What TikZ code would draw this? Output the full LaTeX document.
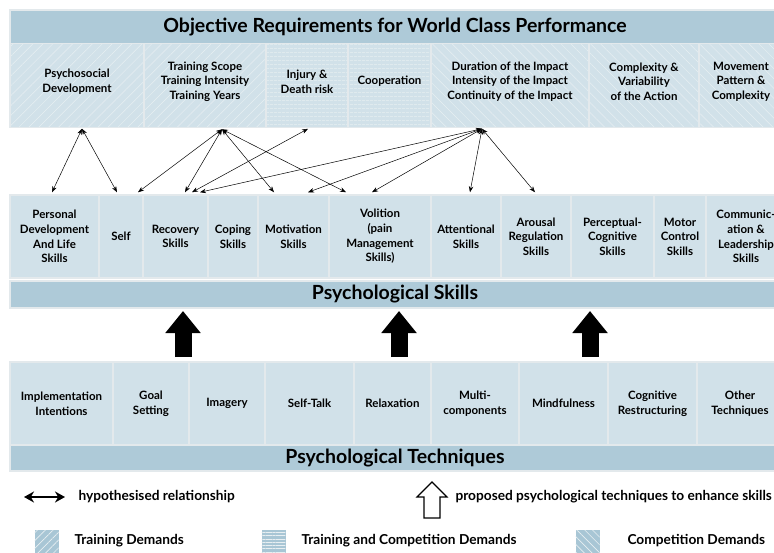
\documentclass[tikz,border=0pt]{standalone}
\usepackage{fontspec}
\setmainfont{Lato}
\usetikzlibrary{arrows.meta}
\usetikzlibrary{patterns.meta}
\definecolor{barblue}{HTML}{AECAD8}
\definecolor{cellblue}{HTML}{D1E1E9}
\definecolor{frame}{HTML}{E3E9EC}
\definecolor{hatch}{HTML}{E8EFF2}
\definecolor{swatchblue}{HTML}{A8C6D5}
\newcommand{\boxfont}{\bfseries\fontsize{11.5}{14.6}\selectfont}
\newcommand{\barfont}{\bfseries\fontsize{19.5}{22}\selectfont}
\newcommand{\keyfont}{\bfseries\fontsize{13.7}{16}\selectfont}
\tikzset{cell/.style = {draw=frame, line width=1.5pt, fill=cellblue, minimum height=83pt,
                        inner sep=0pt, align=center, font=\boxfont}}
\tikzset{bar/.style = {draw=frame, line width=1.5pt, fill=barblue, minimum width=770pt,
                       inner sep=0pt, font=\barfont}}
\tikzset{hatched/.style = {draw=frame, line width=1.5pt, preaction={fill=cellblue},
                           pattern color=hatch, minimum height=84pt, inner sep=0pt}}
\tikzset{trainD/.style = {hatched, pattern={Lines[angle=45,distance=7pt,line width=0.5pt]}}}
\tikzset{bothD/.style = {hatched, pattern={Lines[angle=0,distance=4pt,line width=0.5pt]}}}
\tikzset{compD/.style = {hatched, pattern={Lines[angle=-45,distance=7pt,line width=0.5pt]}}}
\tikzset{demtext/.style = {align=center, font=\boxfont, yshift=4pt}}
\tikzset{hyp/.style = {<->, >={Stealth[length=6pt,width=4.5pt]}, line width=0.5pt}}
\tikzset{boost/.style = {line width=17pt, -{Triangle[length=22pt,width=34pt]}}}
\tikzset{swatch/.style = {preaction={fill=swatchblue}, pattern color=hatch,
                          minimum width=24pt, minimum height=24pt, inner sep=0pt}}

\begin{document}
\begin{tikzpicture}[x=1pt,y=-1pt]
  \useasboundingbox (0,0) rectangle (774,552);
  \clip (0,0) rectangle (774,552);

  % demands
  \node[bar, minimum height=33.5pt] (req) at (395,26.75)
    {Objective Requirements for World Class Performance};
  \node[trainD, minimum width=134pt, label={[demtext]center:{Psychosocial\\Development}}] (psy) at (77,85.5) {};
  \node[trainD, minimum width=122pt, label={[demtext]center:{Training Scope\\Training Intensity\\Training Years}}] (trn) at (205,85.5) {};
  \node[bothD, minimum width=82pt, label={[demtext]center:{Injury \&\\Death risk}}] (inj) at (307,85.5) {};
  \node[bothD, minimum width=83pt, label={[demtext]center:{Cooperation}}] (coop) at (389.5,85.5) {};
  \node[compD, minimum width=158pt, label={[demtext]center:{Duration of the Impact\\Intensity of the Impact\\Continuity of the Impact}}] (dur) at (510,85.5) {};
  \node[compD, minimum width=110pt, label={[demtext]center:{Complexity \&\\Variability\\of the Action}}] (cpx) at (644,85.5) {};
  \node[compD, minimum width=84pt, label={[demtext]center:{Movement\\Pattern \&\\Complexity}}] (mov) at (741,85.5) {};

  % skills
  \node[cell, minimum width=89pt] (pdl) at (54.5,236.5) {Personal\\Development\\And Life\\Skills};
  \node[cell, minimum width=44pt] (self) at (121,236.5) {Self};
  \node[cell, minimum width=65pt] (rec) at (175.5,236.5) {Recovery\\Skills};
  \node[cell, minimum width=50pt] (cop) at (233,236.5) {Coping\\Skills};
  \node[cell, minimum width=71pt] (mot) at (293.5,236.5) {Motivation\\Skills};
  \node[cell, minimum width=102pt] (vol) at (380,236.5) {Volition\\(pain\\Management\\Skills)};
  \node[cell, minimum width=70pt] (att) at (466,236.5) {Attentional\\Skills};
  \node[cell, minimum width=70pt] (aro) at (536,236.5) {Arousal\\Regulation\\Skills};
  \node[cell, minimum width=83pt] (per) at (612.5,236.5) {Perceptual-\\Cognitive\\Skills};
  \node[cell, minimum width=52pt] (mcs) at (680,236.5) {Motor\\Control\\Skills};
  \node[cell, minimum width=80pt] (com) at (746,236.5) {Communic-\\ation \&\\Leadership\\Skills};
  \node[bar, minimum height=27pt] (sbar) at (395,294.5) {Psychological Skills};

  % techniques
  \node[cell, minimum width=103pt] (imp) at (61.5,403.5) {Implementation\\Intentions};
  \node[cell, minimum width=76pt] (goal) at (151,403.5) {Goal\\Setting};
  \node[cell, minimum width=76pt] (img) at (227,403.5) {Imagery};
  \node[cell, minimum width=89pt] (st) at (309.5,403.5) {Self-Talk};
  \node[cell, minimum width=77pt] (rlx) at (392.5,403.5) {Relaxation};
  \node[cell, minimum width=88pt] (mul) at (475,403.5) {Multi-\\components};
  \node[cell, minimum width=89pt] (mind) at (563.5,403.5) {Mindfulness};
  \node[cell, minimum width=89pt] (cog) at (652.5,403.5) {Cognitive\\Restructuring};
  \node[cell, minimum width=86pt] (oth) at (740,403.5) {Other\\Techniques};
  \node[bar, minimum height=26pt] (tbar) at (395,458) {Psychological Techniques};

  % hypothesised relationships
  \coordinate (psyA) at ([xshift=5pt,yshift=-1pt]psy.south);
  \coordinate (trnA) at ([xshift=17pt,yshift=-1pt]trn.south);
  \coordinate (injA) at ([xshift=1pt,yshift=-1pt]inj.south);
  \coordinate (durA) at ([xshift=-28pt,yshift=-1pt]dur.south);
  \draw[hyp] (psyA) -- ([xshift=-2.5pt,yshift=2pt]pdl.north);
  \draw[hyp] (psyA) -- ([xshift=-4pt,yshift=2pt]self.north);
  \draw[hyp] (trnA) -- ([xshift=17pt,yshift=2pt]self.north);
  \draw[hyp] (trnA) -- ([xshift=9.5pt,yshift=2pt]rec.north);
  \draw[hyp] (trnA) -- ([xshift=-19.5pt,yshift=2pt]mot.north);
  \draw[hyp] (trnA) -- ([xshift=-34pt,yshift=2pt]vol.north);
  \draw[hyp] (injA) -- ([xshift=16.5pt,yshift=2pt]rec.north);
  \draw[hyp] (durA) -- ([xshift=24.5pt,yshift=2pt]rec.north);
  \draw[hyp] (durA) -- ([xshift=14.5pt,yshift=2pt]mot.north);
  \draw[hyp] (durA) -- ([xshift=-8pt,yshift=2pt]vol.north);
  \draw[hyp] (durA) -- ([xshift=4pt,yshift=2pt]att.north);
  \draw[hyp] (durA) -- ([xshift=-1pt,yshift=2pt]aro.north);

  % techniques -> skills
  \coordinate (b1) at (183,357);   \coordinate (t1) at (183,311);
  \coordinate (b2) at (399,357);   \coordinate (t2) at (399,311);
  \coordinate (b3) at (590,357);   \coordinate (t3) at (590,311);
  \draw[boost] (b1) -- (t1);
  \draw[boost] (b2) -- (t2);
  \draw[boost] (b3) -- (t3);

  % legend
  \node[anchor=west, font=\keyfont] (hypTxt) at (75,497) {hypothesised relationship};
  \coordinate (hypL) at (24,497);
  \draw[line width=2.5pt, {Stealth[length=10pt,width=11pt]}-{Stealth[length=10pt,width=11pt]}]
    (hypL) -- ([xshift=-10pt]hypTxt.west);
  \draw[line width=1.2pt, fill=white] (432,482) -- (447,497) -- (440,497) -- (440,518)
    -- (424,518) -- (424,497) -- (417,497) -- cycle;
  \node[anchor=west, font=\keyfont] (propTxt) at (452,497) {proposed psychological techniques to enhance skills};

  \node[swatch, pattern={Lines[angle=45,distance=5.5pt,line width=0.6pt]}] (swT) at (46.5,542) {};
  \node[anchor=west, font=\keyfont] (swTTxt) at (71,541) {Training Demands};
  \node[swatch, pattern={Lines[angle=0,distance=3.3pt,line width=0.6pt]}] (swB) at (273.5,542) {};
  \node[anchor=west, font=\keyfont] (swBTxt) at (298,541) {Training and Competition Demands};
  \node[swatch, pattern={Lines[angle=-45,distance=5.5pt,line width=0.6pt]}] (swC) at (587.5,542) {};
  \node[anchor=west, font=\keyfont] (swCTxt) at (624,541) {Competition Demands};
\end{tikzpicture}
\end{document}
